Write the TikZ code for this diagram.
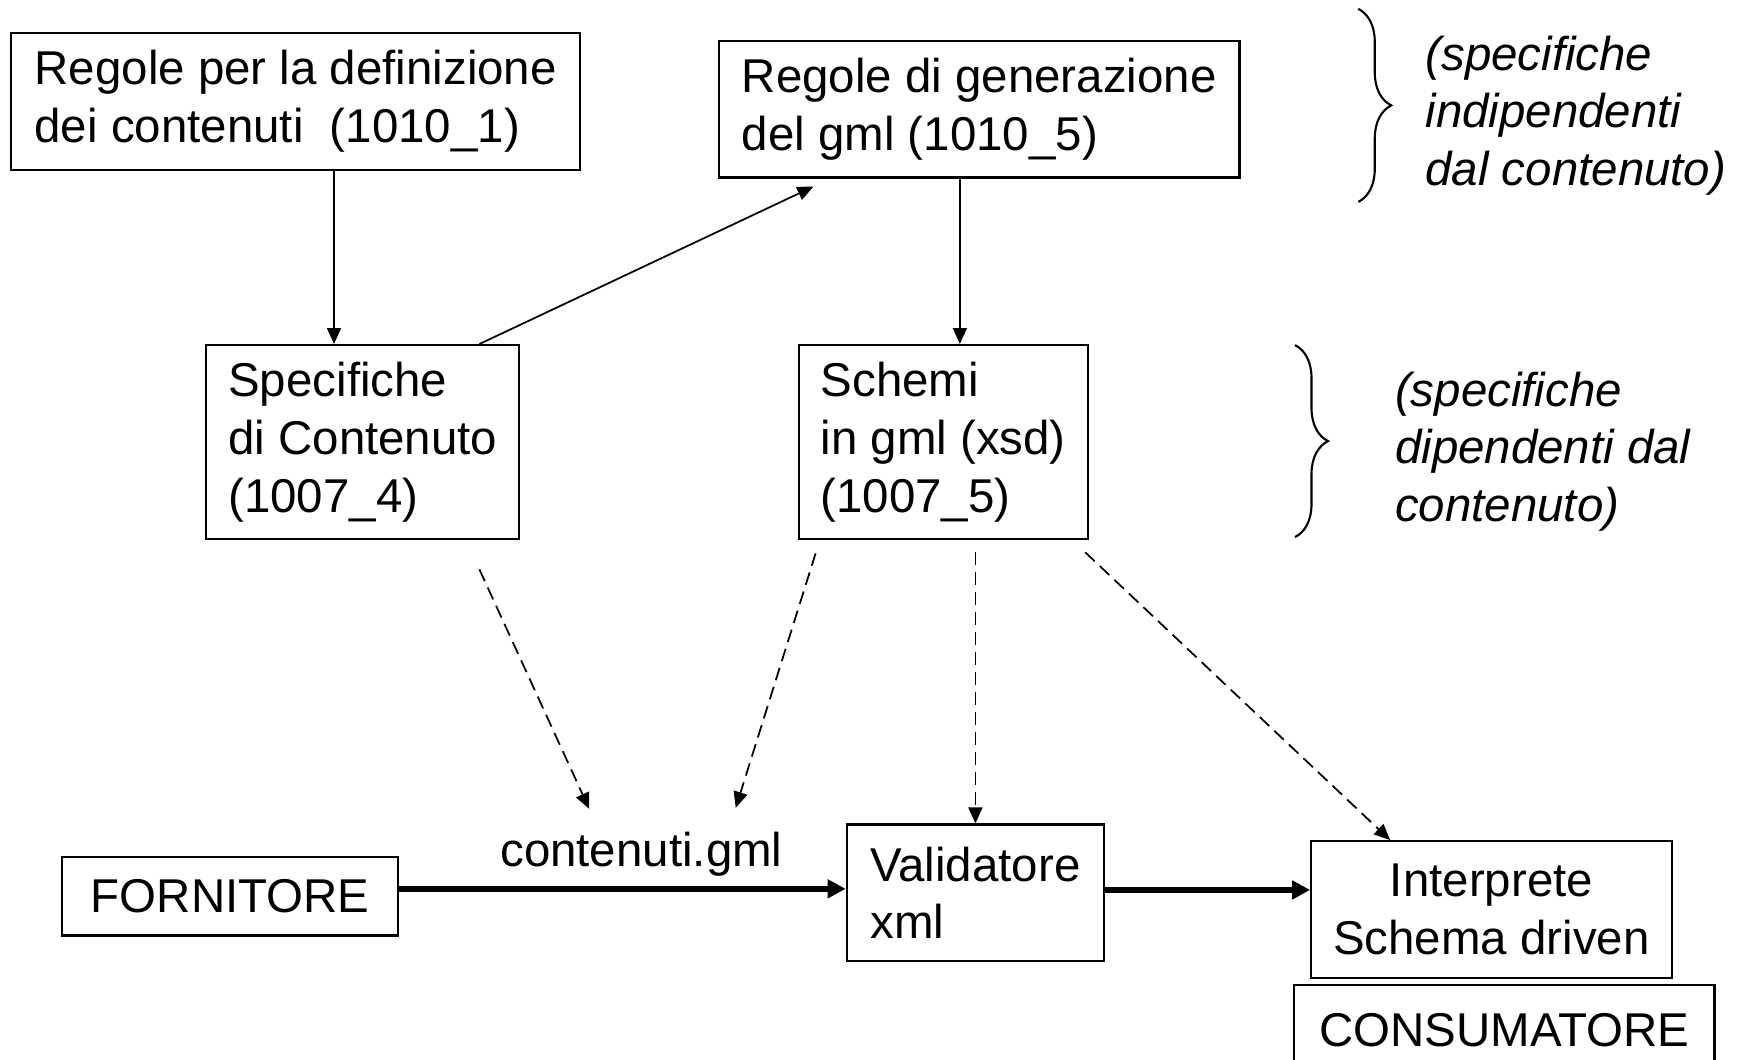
\documentclass[tikz,border=0pt]{standalone}
\usepackage{fontspec}
\setmainfont{Liberation Sans}
\usetikzlibrary{arrows.meta,decorations.pathreplacing}

\begin{document}
\begin{tikzpicture}
    [x=0.11097mm, y=-0.11097mm,
     box/.style={draw, line width=0.6pt, inner xsep=2.2mm, inner ysep=0pt, align=left, font=\fontsize{13.5}{16.4}\selectfont},
     edge/.style={draw, line width=0.5pt, -{Triangle[length=1.6mm,width=1.4mm]}},
     flow/.style={draw, line width=1.6pt, -{Triangle[length=1.8mm,width=1.8mm]}},
     hint/.style={draw, line width=0.5pt, dash pattern=on 1.3mm off 0.7mm, -{Triangle[length=1.6mm,width=1.4mm]}},
     note/.style={anchor=west, inner sep=0pt, align=left, font=\fontsize{13.5}{16.4}\selectfont\itshape},
     curly/.style={draw, line width=0.6pt, decorate, decoration={brace, amplitude=3.3mm}}]
    \useasboundingbox (0,0) rectangle (1568,955);
    % Define nodes
    \node[box, minimum width=56.93mm, minimum height=13.65mm] (rdef) at (266.5,91.5) {Regole per la definizione\\dei contenuti\ \ (1010\_1)};
    \node[box, minimum width=52.05mm, minimum height=13.65mm] (rgen) at (882.5,98.5) {Regole di generazione\\del gml (1010\_5)};
    \node[box, minimum width=31.29mm, minimum height=19.42mm] (spec) at (327,398.5) {Specifiche\\di Contenuto\\(1007\_4)};
    \node[box, minimum width=28.85mm, minimum height=19.42mm] (schemi) at (850,398.5) {Schemi\\in gml (xsd)\\(1007\_5)};
    \node[box, minimum width=33.62mm, minimum height=7.88mm] (forn) at (207.5,807.5) {FORNITORE};
    \node[box, minimum width=25.74mm, minimum height=13.65mm] (valid) at (879,804.5) {Validatore\\xml};
    \node[box, minimum width=35.95mm, minimum height=13.65mm, align=center] (interp) at (1344,819.5) {Interprete\\Schema driven};
    \node[box, minimum width=42.06mm, minimum height=8.88mm, align=center] (cons) at (1355.5,928) {CONSUMATORE};
    \node[anchor=base, inner sep=0pt, font=\fontsize{13.5}{16.4}\selectfont] (cgml) at (578,780.6) {contenuti.gml};
    \node[note] (indip) at (1284,104) {(specifiche\\indipendenti\\dal contenuto)};
    \node[note] (dip) at (1256.6,407) {(specifiche\\dipendenti dal\\contenuto)};
    % Define edges
    \coordinate (c1) at (301,0);
    \coordinate (c2) at (432,0);
    \coordinate (c3) at (865,0);
    \coordinate (c4) at (978,0);
    \coordinate (c5) at (1252.7,0);
    \coordinate (l1) at (0,801);
    \coordinate (l2) at (0,802);
    \coordinate (g1) at (531,729);
    \coordinate (g2) at (663,728);
    \draw[edge] (rdef.south -| c1) -- (spec.north -| c1);
    \draw[edge] (spec.north -| c2) -- ([yshift=-0.8mm]rgen.south -| 733,0);
    \draw[edge] (rgen.south -| c3) -- (schemi.north -| c3);
    \draw[hint] ([yshift=-2.9mm]spec.south -| c2) -- (g1);
    \draw[hint] ([yshift=-1.3mm]schemi.south -| 735,0) -- (g2);
    \draw[hint] ([yshift=-1.2mm]schemi.south -| valid.north) -- (valid.north);
    \draw[hint] ([yshift=-1.2mm]schemi.south -| c4) -- (interp.north -| c5);
    \draw[flow] (forn.east |- l1) -- (valid.west |- l1);
    \draw[flow] (valid.east |- l2) -- (interp.west |- l2);
    % braces
    \draw[curly] (1224,8) -- (1224,182);
    \draw[curly] (1167,311) -- (1167,484);
\end{tikzpicture}
\end{document}
